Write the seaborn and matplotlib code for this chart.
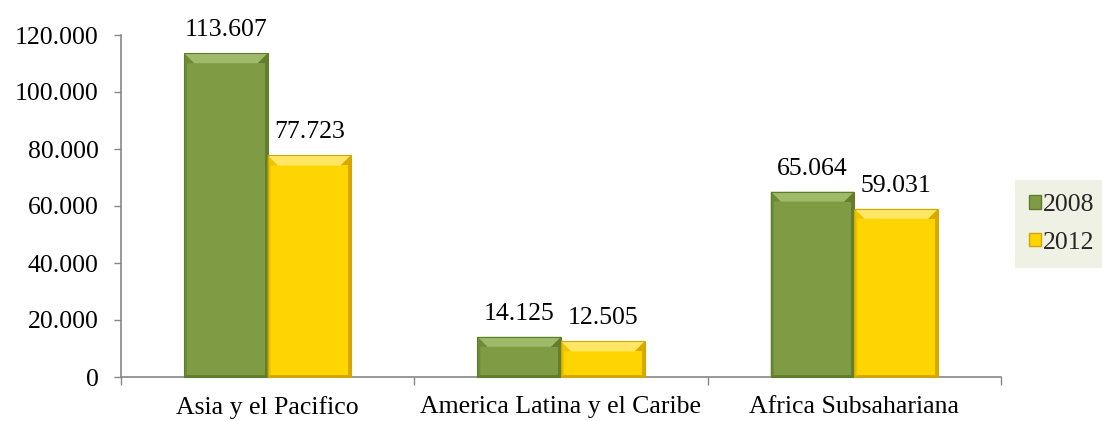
import matplotlib
matplotlib.use("Agg")
import matplotlib.pyplot as plt
from matplotlib.patches import Polygon, Patch
from matplotlib.ticker import FuncFormatter, FixedLocator
import seaborn as sns
import pandas as pd

categories = ["Asia y el Pacifico", "America Latina y el Caribe", "Africa Subsahariana"]
years = ["2008", "2012"]
values_2008 = [113607, 14125, 65064]
values_2012 = [77723, 12505, 59031]
labels_2008 = ["113.607", "14.125", "65.064"]
labels_2012 = ["77.723", "12.505", "59.031"]

df = pd.DataFrame({
    "region": categories * 2,
    "year": [years[0]] * 3 + [years[1]] * 3,
    "value": values_2008 + values_2012,
})

sns.set_theme(style="white")
plt.rcParams["font.family"] = ["Liberation Serif", "DejaVu Serif"]

W, H = 1102, 421
fig = plt.figure(figsize=(W / 100, H / 100), dpi=100)
ax = fig.add_axes([121 / W, 1 - 377 / H, (1001 - 121) / W, (377 - 35) / H])

green = "#7F9C45"
yellow = "#FFD500"
sns.barplot(data=df, x="region", y="value", hue="year", palette=[green, yellow],
            width=0.57, saturation=1, ax=ax, edgecolor="none", linewidth=0,
            legend=False)

ax.set_xlim(-0.5, 2.5)
ax.set_ylim(0, 120000)
ax.set_yticks(range(0, 120001, 20000))
ax.yaxis.set_major_formatter(FuncFormatter(lambda v, p: f"{int(v):,}".replace(",", ".")))
ax.set_xlabel("")
ax.set_ylabel("")

FS = 18.5
ax.tick_params(axis="y", which="major", length=5, width=1, color="#868686",
               direction="out", labelsize=FS, pad=11, left=True)
ax.tick_params(axis="x", which="major", length=0, labelsize=FS, pad=14)
ax.xaxis.set_minor_locator(FixedLocator([-0.5, 0.5, 1.5, 2.5]))
ax.tick_params(axis="x", which="minor", length=6, width=1, color="#868686",
               direction="out", bottom=True)
for lab in ax.get_xticklabels() + ax.get_yticklabels():
    lab.set_color("black")

for s in ["top", "right"]:
    ax.spines[s].set_visible(False)
for s in ["left", "bottom"]:
    ax.spines[s].set_color("#868686")
    ax.spines[s].set_linewidth(1.2)

fig.canvas.draw()

# bevel effect derived from drawn bars
bevel = {green: ("#A3BE6C", "#5F7B2C", "#6C8A36"), yellow: ("#FFE870", "#D4A600", "#EDC200")}
bars = [p for p in ax.patches if p.get_height() > 0]
for p in bars:
    fc = matplotlib.colors.to_hex(p.get_facecolor())
    key = green if fc.lower() == green.lower() else yellow
    light, dark, mid = bevel[key]
    bb = p.get_window_extent()
    x0, y0, x1, y1 = bb.x0, bb.y0, bb.x1, bb.y1
    d = min(10, (y1 - y0) / 3)
    s = 3
    polys = [
        ([(x0, y1), (x1, y1), (x1 - d, y1 - d), (x0 + d, y1 - d)], light),
        ([(x1, y1), (x1, y0), (x1 - s, y0), (x1 - s, y1 - d), (x1 - d, y1 - d)], dark),
        ([(x0, y1), (x0 + d, y1 - d), (x0 + s, y1 - d), (x0 + s, y0), (x0, y0)], mid),
        ([(x0, y0), (x1, y0), (x1 - s, y0 + 2), (x0 + s, y0 + 2)], dark),
    ]
    for pts, c in polys:
        fig.add_artist(Polygon(pts, closed=True, transform=None, facecolor=c,
                               edgecolor="none", alpha=0.9, zorder=3))
    fig.add_artist(Polygon([(x0, y0), (x1, y0), (x1, y1), (x0, y1)], closed=True,
                           transform=None, facecolor="none", edgecolor=dark,
                           linewidth=0.8, zorder=4))

# value labels
n = len(categories)
all_labels = labels_2008 + labels_2012
for p, txt in zip(ax.patches[:2 * n], all_labels):
    ax.annotate(txt, (p.get_x() + p.get_width() / 2, p.get_height()),
                xytext=(0, 12), textcoords="offset pixels", ha="center",
                va="bottom", fontsize=FS, color="black")

# legend
handles = [Patch(facecolor=green, edgecolor="#5F7B2C"), Patch(facecolor=yellow, edgecolor="#D4A600")]
leg = fig.legend(handles, years, loc="center left", bbox_to_anchor=(1015 / W, 1 - 224 / H),
                 fontsize=FS, frameon=True, fancybox=False, handlelength=0.45,
                 handleheight=0.45, handletextpad=0.1, labelspacing=0.6,
                 borderpad=0.55, borderaxespad=0)
leg.get_frame().set_facecolor("#EEF1E4")
leg.get_frame().set_edgecolor("none")
leg.get_frame().set_alpha(1)

fig.savefig("out.png", dpi=100, facecolor="white")
